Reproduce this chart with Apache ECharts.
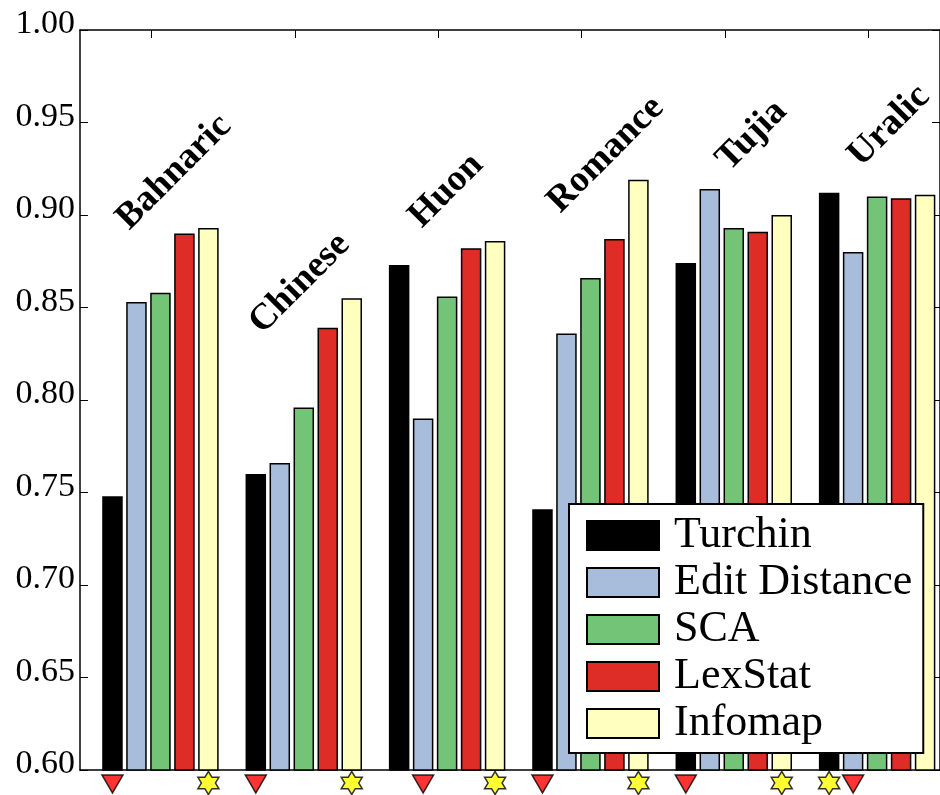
<!DOCTYPE html>
<html>
<head>
<meta charset="utf-8">
<script src="https://cdn.jsdelivr.net/npm/echarts@6/dist/echarts.min.js"></script>
<style>
html,body{margin:0;padding:0;background:#fff;}
#chart{width:940px;height:795px;}
</style>
</head>
<body>
<div id="chart"></div>
<script>
// ---- data ----
var groups = ['Bahnaric', 'Chinese', 'Huon', 'Romance', 'Tujia', 'Uralic'];
var methods = ['Turchin', 'Edit Distance', 'SCA', 'LexStat', 'Infomap'];
var turchin      = [0.748, 0.760, 0.873, 0.741, 0.874, 0.912];
var editDistance = [0.853, 0.766, 0.790, 0.836, 0.914, 0.880];
var sca          = [0.858, 0.796, 0.856, 0.866, 0.893, 0.910];
var lexstat      = [0.890, 0.839, 0.882, 0.887, 0.891, 0.909];
var infomap      = [0.893, 0.855, 0.886, 0.919, 0.900, 0.911];
// method index marked per group
var triangleIdx = [0, 0, 1, 0, 0, 1];
var starIdx     = [4, 4, 4, 4, 4, 0];
var yTicks = [0.60, 0.65, 0.70, 0.75, 0.80, 0.85, 0.90, 0.95, 1.00];

// ---- layout (not data) ----
var labelAnchors = [[0.387, 0.8881], [0.315, 0.8319], [0.428, 0.8892], [0.394, 0.8973], [0.573, 0.9200], [0.493, 0.9222]];
var colors = ['#000000', '#a7bddb', '#73c476', '#de2d26', '#ffffbf'];
var FONT = '"Liberation Serif", "Times New Roman", serif';
var BAR_W = 20.5, GAP = 0.17, SPACER_W = 15;

var seriesValues = [turchin, editDistance, sca, lexstat, infomap];
var nMethods = methods.length;

var chart = echarts.init(document.getElementById('chart'), null, {renderer: 'canvas'});

var series = [];
// invisible spacer column shifting the bar cluster to the right inside each band
series.push({
  name: '_spacer', type: 'bar', xAxisIndex: 1, yAxisIndex: 0,
  data: groups.map(function () { return '-'; }),
  barWidth: SPACER_W, barGap: (GAP * 100) + '%', silent: true,
  itemStyle: {color: 'rgba(0,0,0,0)'}
});
methods.forEach(function (m, k) {
  series.push({
    name: m,
    type: 'bar',
    xAxisIndex: 1,
    yAxisIndex: 0,
    data: seriesValues[k],
    barWidth: BAR_W,
    barGap: (GAP * 100) + '%',
    clip: true,
    itemStyle: {color: colors[k], borderColor: '#000', borderWidth: 1.5},
    emphasis: {disabled: true}
  });
});

// horizontal offset (px) of bar k's centre from its band centre, from the bar layout above
var clusterW = SPACER_W * (1 + GAP) + nMethods * BAR_W * (1 + GAP) - BAR_W * GAP;
function barOffset(k) {
  return -clusterW / 2 + SPACER_W * (1 + GAP) + BAR_W / 2 + k * BAR_W * (1 + GAP);
}

function markerData(idxArr, dy) {
  return idxArr.map(function (k, g) {
    return {value: [g, yTicks[0]], symbolOffset: [barOffset(k), dy]};
  });
}

// hexagram path
function hexagramPath() {
  var R = 10, r = R / Math.sqrt(3), pts = [];
  for (var i = 0; i < 12; i++) {
    var ang = -Math.PI / 2 + i * Math.PI / 6;
    var rad = (i % 2 === 0) ? R : r;
    pts.push((R + rad * Math.cos(ang)).toFixed(3) + ' ' + (R + rad * Math.sin(ang)).toFixed(3));
  }
  return 'path://M' + pts.join(' L') + ' Z';
}

series.push({
  type: 'scatter',
  xAxisIndex: 1,
  yAxisIndex: 0,
  data: markerData(triangleIdx, 14),
  symbol: 'triangle',
  symbolRotate: 180,
  symbolSize: [21, 18],
  clip: false,
  z: 10,
  itemStyle: {color: '#ff0000', borderColor: '#000', borderWidth: 1.5},
  emphasis: {disabled: true}
});
series.push({
  type: 'scatter',
  xAxisIndex: 1,
  yAxisIndex: 0,
  data: markerData(starIdx, 13),
  symbol: hexagramPath(),
  symbolSize: [21, 23],
  clip: false,
  z: 10,
  itemStyle: {color: '#ffff00', borderColor: '#000', borderWidth: 1.5},
  emphasis: {disabled: true}
});
series.push({
  type: 'custom',
  xAxisIndex: 2,
  yAxisIndex: 0,
  data: labelAnchors.map(function (a, g) { return [g + a[0], a[1], g]; }),
  clip: false,
  z: 5,
  renderItem: function (params, api) {
    var p = api.coord([api.value(0), api.value(1)]);
    return {
      type: 'text',
      x: p[0],
      y: p[1],
      rotation: Math.PI / 4,
      style: {
        text: groups[api.value(2)],
        fill: '#000',
        font: 'bold 37px ' + FONT,
        align: 'left',
        verticalAlign: 'bottom'
      }
    };
  }
});

var axisLineStyle = {color: '#000', width: 1.5};

var option = {
  animation: false,
  backgroundColor: '#fff',
  grid: [
    {left: 80, top: 30, width: 860, height: 740, containLabel: false}
  ],
  legend: {
    data: methods,
    orient: 'vertical',
    left: 569,
    top: 504,
    itemWidth: 72,
    itemHeight: 29,
    itemGap: 0,
    padding: [8, 11, 6, 17],
    backgroundColor: '#fff',
    borderColor: '#000',
    borderWidth: 2,
    borderRadius: 0,
    icon: 'rect',
    selectedMode: false,
    textStyle: {fontFamily: FONT, fontSize: 44, color: '#000', lineHeight: 47, padding: [0, 0, 0, 10]}
  },
  xAxis: [
    {
      gridIndex: 0, type: 'category', data: groups, position: 'top',
      axisLine: {show: true, lineStyle: axisLineStyle},
      axisTick: {show: true, inside: true, alignWithLabel: true, length: 8, lineStyle: {color: '#000', width: 1}},
      axisLabel: {show: false}, splitLine: {show: false}
    },
    {
      gridIndex: 0, type: 'category', data: groups, position: 'bottom',
      axisLine: {show: true, lineStyle: axisLineStyle},
      axisTick: {show: false}, axisLabel: {show: false}, splitLine: {show: false}
    },
    {gridIndex: 0, type: 'value', min: 0, max: groups.length, show: false}
  ],
  yAxis: [
    {
      gridIndex: 0, type: 'value', min: yTicks[0], max: yTicks[yTicks.length - 1], interval: 0.05,
      position: 'left',
      axisLine: {show: true, lineStyle: axisLineStyle},
      axisTick: {show: true, inside: true, length: 8, lineStyle: {color: '#000', width: 1}},
      axisLabel: {
        show: true, margin: 5, color: '#000', fontFamily: FONT, fontSize: 34,
        verticalAlign: 'bottom', lineHeight: 11,
        formatter: function (v) { return v.toFixed(2); }
      },
      splitLine: {show: false}
    },
    {
      gridIndex: 0, type: 'value', min: yTicks[0], max: yTicks[yTicks.length - 1], interval: 0.05,
      position: 'right',
      axisLine: {show: true, lineStyle: axisLineStyle},
      axisTick: {show: true, inside: true, length: 8, lineStyle: {color: '#000', width: 1}},
      axisLabel: {show: false}, splitLine: {show: false}
    }
  ],
  series: series
};

chart.setOption(option);
</script>
</body>
</html>
